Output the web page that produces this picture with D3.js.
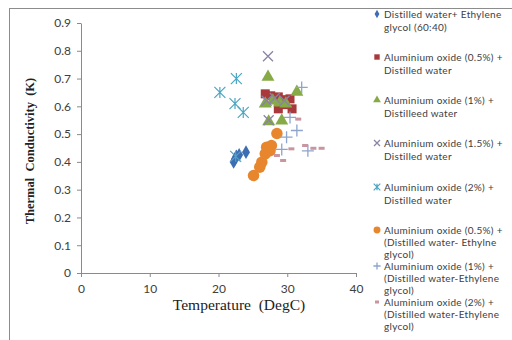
<!DOCTYPE html>
<html>
<head>
<meta charset="utf-8">
<script src="https://cdn.jsdelivr.net/npm/d3@7"></script>
<style>
  html, body { margin: 0; padding: 0; background: #fff; }
  svg { display: block; }
</style>
</head>
<body>
<svg id="chart" width="512" height="340"></svg>
<script>
// Temperature (DegC) and thermal conductivity (K) per fluid
const s1T = [22.2, 22.4, 22.6, 23.0, 24.0];
const s1K = [0.40, 0.41, 0.42, 0.425, 0.435];
const s2T = [26.8, 27.6, 28.7, 29.5, 30.4, 28.7, 30.7, 29.7];
const s2K = [0.645, 0.638, 0.634, 0.624, 0.627, 0.591, 0.591, 0.606];
const s3T = [27.2, 31.4, 26.8, 27.9, 28.9, 29.8, 27.3, 29.2];
const s3K = [0.706, 0.652, 0.609, 0.620, 0.613, 0.609, 0.545, 0.548];
const s4T = [27.2, 27.0, 28.2, 27.3, 29.6];
const s4K = [0.78, 0.62, 0.63, 0.55, 0.62];
const s5T = [20.2, 22.6, 22.4, 23.6, 22.5];
const s5K = [0.65, 0.70, 0.61, 0.578, 0.42];
const s6T = [25.1, 26.0, 26.3, 26.8, 27.0, 27.5, 27.7, 28.5];
const s6K = [0.351, 0.381, 0.399, 0.429, 0.453, 0.44, 0.459, 0.502];
const s7T = [32.1, 30.4, 31.4, 29.9, 29.2, 33.0];
const s7K = [0.668, 0.56, 0.513, 0.489, 0.445, 0.44];
const s8T = [30.6, 32.6, 33.8, 35.0, 28.5, 29.4, 31.6];
const s8K = [0.447, 0.459, 0.449, 0.449, 0.423, 0.405, 0.554];

const seriesNames = [
  ["Distilled water+ Ethylene", "glycol (60:40)"],
  ["Aluminium oxide (0.5%) +", "Distilled water"],
  ["Aluminium oxide (1%) +", "Distilleed water"],
  ["Aluminium oxide (1.5%) +", "Distilled water"],
  ["Aluminium oxide (2%) +", "Distilled water"],
  ["Aluminium oxide (0.5%) +", "(Distilled water- Ethylne", "glycol)"],
  ["Aluminium oxide (1%) +", "(Distilled water-Ethylene", "glycol)"],
  ["Aluminium oxide (2%) +", "(Distilled water-Ethylene", "glycol)"]
];
const xTicks = [0, 10, 20, 30, 40];
const yTicks = [0, 0.1, 0.2, 0.3, 0.4, 0.5, 0.6, 0.7, 0.8, 0.9];

const svg = d3.select("#chart");
const x = d3.scaleLinear().domain([0, 40]).range([81, 356]);
const y = d3.scaleLinear().domain([0, 0.9]).range([273, 23]);

// chart frame
svg.append("rect")
  .attr("x", 9.5).attr("y", 8.5).attr("width", 520).attr("height", 340)
  .attr("fill", "none").attr("stroke", "#8c8c8c").attr("stroke-width", 1);

const tickFont = "Lato, 'Open Sans', sans-serif";

// axes
const xAxis = svg.append("g").attr("transform", "translate(0,273)")
  .call(d3.axisBottom(x).tickValues(xTicks).tickSize(4).tickSizeOuter(0).tickPadding(7).tickFormat(d3.format("d")));
const yAxis = svg.append("g").attr("transform", "translate(81,0)")
  .call(d3.axisLeft(y).tickValues(yTicks).tickSize(4).tickSizeOuter(0).tickPadding(6).tickFormat(d => d === 0 ? "0" : d3.format(".1f")(d)));
[xAxis, yAxis].forEach(g => {
  g.select(".domain").attr("stroke", "#8a8a8a");
  g.selectAll(".tick line").attr("stroke", "#8a8a8a");
  g.selectAll("text").attr("fill", "#404040").style("font-family", tickFont).style("font-size", "12px");
});

// axis titles
svg.append("text")
  .attr("transform", "translate(34,151) rotate(-90)")
  .attr("text-anchor", "middle")
  .style("font-family", "'Liberation Serif', 'Times New Roman', serif")
  .style("font-weight", "bold").style("font-size", "12.5px")
  .attr("fill", "#222")
  .attr("xml:space", "preserve")
  .text("Thermal  Conductivity  (K)");
svg.append("text")
  .attr("x", 239).attr("y", 310)
  .attr("text-anchor", "middle")
  .style("font-family", "'Liberation Serif', 'Times New Roman', serif")
  .style("font-size", "15.5px")
  .attr("fill", "#222")
  .attr("xml:space", "preserve")
  .text("Temperature  (DegC)");

// marker shapes
const shapes = {
  diamond: (s) => d3.symbol(d3.symbolDiamond, s * s * 0.55)(),
  square: (s) => d3.symbol(d3.symbolSquare, s * s)(),
  triangle: (s) => d3.symbol(d3.symbolTriangle, s * s * 0.6)(),
  circle: (s) => d3.symbol(d3.symbolCircle, Math.PI * s * s / 4)(),
  cross: (s) => { const h = s / 2; return `M${-h},${-h}L${h},${h}M${-h},${h}L${h},${-h}`; },
  star: (s) => { const h = s / 2; return `M${-h},${-h}L${h},${h}M${-h},${h}L${h},${-h}M0,${-h}L0,${h}`; },
  plus: (s) => { const h = s / 2; return `M${-h},0L${h},0M0,${-h}L0,${h}`; },
  dash: (s) => { const h = s / 2; return `M${-h},0L${h},0`; }
};

const series = [
  { T: s1T, K: s1K, shape: "diamond", size: 10, color: "#3d6db3", fill: true },
  { T: s2T, K: s2K, shape: "square", size: 9, color: "#a8383b", fill: true },
  { T: s3T, K: s3K, shape: "triangle", size: 11, color: "#86aa45", fill: true },
  { T: s4T, K: s4K, shape: "cross", size: 10, color: "#8a83a6", fill: false, sw: 1.3 },
  { T: s5T, K: s5K, shape: "star", size: 11, color: "#4ba6c2", fill: false, sw: 1.2 },
  { T: s6T, K: s6K, shape: "circle", size: 11.5, color: "#e8862e", fill: true },
  { T: s7T, K: s7K, shape: "plus", size: 12, color: "#8ea4cc", fill: false, sw: 1.3 },
  { T: s8T, K: s8K, shape: "dash", size: 6, color: "#c9959f", fill: false, sw: 3 }
];

function drawMarker(g, s, cx, cy, size) {
  const p = g.append("path")
    .attr("transform", `translate(${cx},${cy})`)
    .attr("d", shapes[s.shape](size));
  if (s.fill) p.attr("fill", s.color).attr("stroke", "none");
  else p.attr("fill", "none").attr("stroke", s.color).attr("stroke-width", s.sw);
}

const plot = svg.append("g");
series.forEach(s => {
  s.T.forEach((t, i) => drawMarker(plot, s, x(t), y(s.K[i]), s.size));
});

// legend: first-line centre of each entry, and line pitch
const legendTop = [14, 57, 100, 143, 187, 230, 266, 302];
const legend = svg.append("g");
series.forEach((s, i) => {
  const ly = legendTop[i];
  const pitch = seriesNames[i].length > 2 ? 12 : 13;
  drawMarker(legend, s, 377, ly, s.shape === "dash" ? 4 : s.size * 0.6);
  seriesNames[i].forEach((line, j) => {
    legend.append("text")
      .attr("x", 384).attr("y", ly + j * pitch + 3.5)
      .style("font-family", tickFont).style("font-size", "10px")
      .style("letter-spacing", "0.3px")
      .attr("fill", "#404040")
      .text(line);
  });
});
</script>
</body>
</html>
